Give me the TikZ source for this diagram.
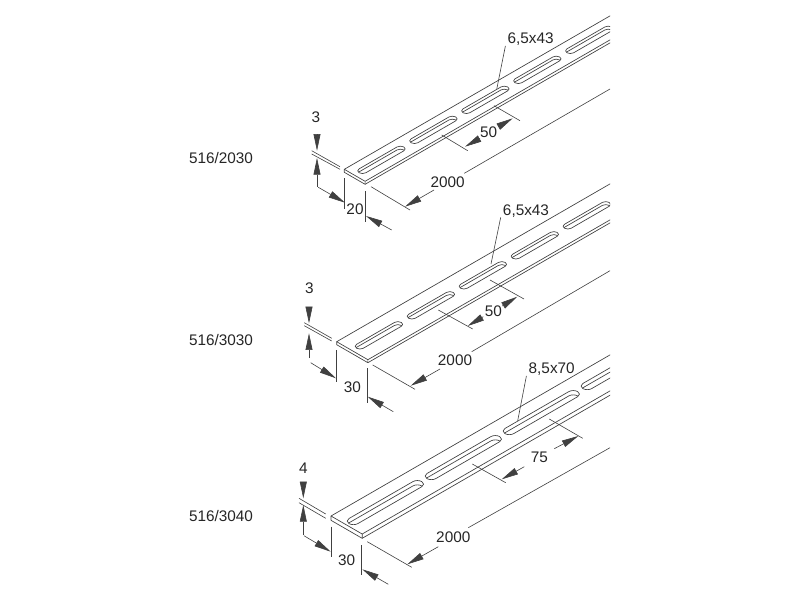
\documentclass[tikz,border=0pt]{standalone}
\usepackage{fontspec}
\setmainfont{Liberation Sans}
\usetikzlibrary{arrows.meta}

% outline of one slot: start, end, centre line, radius
\newcommand{\slotpath}[4]{(#1,#3-#4) -- (#2,#3-#4) arc [start angle=-90,end angle=90,radius=#4] -- (#1,#3+#4) arc [start angle=90,end angle=270,radius=#4] -- cycle}
% slot with its inner wall: as \slotpath, then wall depth
\newcommand{\slothole}[5]{
  \begin{scope}
    \clip \slotpath{#1}{#2}{#3}{#4};
    \draw [strip,shift={(-#5,#5)}] \slotpath{#1}{#2}{#3}{#4};
  \end{scope}
  \draw [strip] \slotpath{#1}{#2}{#3}{#4};
}
% body of the strip: width, depth
\newcommand{\stripbody}[2]{
  \draw [strip] (300,0) -- (0,0) -- (0,#1) -- (300,#1);
  \draw [strip] (0,0) -- ++(-#2,#2) -- ++(0,#1) -- ++(#2,-#2);
  \draw [strip] (-#2,#1+#2) -- (300,#1+#2);
}

\begin{document}
\begin{tikzpicture}[x=0.75pt,y=-0.75pt,>={Stealth[length=12.5pt,width=5.2pt,inset=0pt]}]
  \tikzstyle{strip}=[line width=0.5pt,draw=black!75,line join=round]
  \tikzstyle{dimline}=[line width=0.45pt,draw=black!75]
  \tikzstyle{dimarrow}=[dimline,->]
  \tikzstyle{dimtext}=[font=\fontsize{11.5pt}{13pt}\selectfont,text=black!85,inner sep=0pt]
  \tikzstyle{iso}=[x={(0.7794pt,0.45pt)},y={(0.7794pt,-0.45pt)}]

  \useasboundingbox (0,0) rectangle (800,600);
  \fill [white] (0,0) rectangle (800,600);

  \begin{scope}
    \clip (0,0) rectangle (610,600);
    % First strip
    \begin{scope}[shift={(344.3,169.3)},iso]
      \stripbody{20}{2.5}
      \foreach \k in {0,...,4} {
        \slothole{7.5+50*\k}{44+50*\k}{10}{3.25}{2.5}
      }
    \end{scope}
    % Second strip
    \begin{scope}[shift={(336.7,341.7)},iso]
      \stripbody{30}{2.5}
      \foreach \k in {0,...,4} {
        \slothole{7.4+50*\k}{43.9+50*\k}{15}{3.25}{2.5}
      }
    \end{scope}
    % Third strip
    \begin{scope}[shift={(331,516)},iso]
      \stripbody{30}{3.6}
      \foreach \k in {0,...,3} {
        \slothole{6.6+75*\k}{68.1+75*\k}{15}{4.25}{3.6}
      }
    \end{scope}
  \end{scope}

  \begin{scope}
    \node [dimtext] (typeA) at (221,158) {516/2030};
    \node [dimtext] (typeB) at (221,340) {516/3030};
    \node [dimtext] (typeC) at (221,516) {516/3040};

    \node [dimtext] (thickA) at (316,117.5) {3};
    \node [dimtext] (widthA) at (355,209) {20};
    \node [dimtext] (lenA) at (447.7,182.3) {2000};
    \node [dimtext] (pitchA) at (488.7,132.7) {50};
    \node [dimtext] (slotA) at (530.7,39.3) {6,5x43};

    \node [dimtext] (thickB) at (309.3,288.3) {3};
    \node [dimtext] (widthB) at (352.3,387.7) {30};
    \node [dimtext] (lenB) at (455,360) {2000};
    \node [dimtext] (pitchB) at (493.3,311) {50};
    \node [dimtext] (slotB) at (526,210.7) {6,5x43};

    \node [dimtext] (thickC) at (303.3,468.3) {4};
    \node [dimtext] (widthC) at (346.7,560) {30};
    \node [dimtext] (lenC) at (453.3,537.3) {2000};
    \node [dimtext] (pitchC) at (539.3,457.7) {75};
    \node [dimtext] (slotC) at (551.7,369.3) {8,5x70};
  \end{scope}

  % First dimensions
  \draw [dimarrow] (317,135) -- (317,150.7);
  \draw [dimarrow] (317,186.7) -- (317,158);
  \draw [dimline] (311.7,150.7) -- (340,166.7);
  \draw [dimline] (311.7,154) -- (340,169.3);
  \draw [dimarrow] (318.3,187.3) -- (345,202.7);
  \draw [dimline] (344.3,178.3) -- (344.3,209);
  \draw [dimline] (365.3,191) -- (365.3,221.7);
  \draw [dimarrow] (391.7,230) -- (366,216);
  \draw [dimline] (371,186.7) -- (410,210);
  \draw [dimline] (464.3,173.3) -- (610,89);
  \draw [dimarrow] (434,190) -- (405,206.7);
  \draw [dimline] (441.7,135) -- (467.7,150.7);
  \draw [dimline] (494,105.7) -- (520,120.7);
  \draw [dimarrow] (480,138.3) -- (465,146.7);
  \draw [dimarrow] (498.3,126.7) -- (512.7,118.3);
  \draw [dimline] (slotA.south west) ++(-2,0) -- (496.7,89.3);

  % Second dimensions
  \draw [dimarrow] (309,308) -- (309,323.3);
  \draw [dimarrow] (309,358) -- (309,333.3);
  \draw [dimline] (304.3,322.7) -- (331.7,338.3);
  \draw [dimline] (304.3,325.7) -- (331.7,341);
  \draw [dimarrow] (310.7,362.7) -- (336,378.3);
  \draw [dimline] (336.3,350) -- (336.3,381.7);
  \draw [dimline] (367.3,368.3) -- (367.3,402.7);
  \draw [dimarrow] (393.3,411.7) -- (367.7,396.7);
  \draw [dimline] (372.7,365) -- (415,389.3);
  \draw [dimline] (471.7,351.7) -- (610,270.7);
  \draw [dimarrow] (440,369) -- (410.7,385.7);
  \draw [dimline] (438.3,310) -- (472.7,329);
  \draw [dimline] (490,280) -- (524,299);
  \draw [dimarrow] (483.3,316.7) -- (467.7,326);
  \draw [dimarrow] (502.3,306) -- (517.3,296.7);
  \draw [dimline] (slotB.south west) ++(-2,0) -- (491,264);

  % Third dimensions
  \draw [dimarrow] (303.3,483.3) -- (303.3,498.3);
  \draw [dimarrow] (303.3,535) -- (303.3,505);
  \draw [dimline] (299,498.3) -- (325.7,514);
  \draw [dimline] (299,502.7) -- (325.7,518.3);
  \draw [dimarrow] (304,535.7) -- (330.7,551.7);
  \draw [dimline] (331,526.7) -- (331,556.7);
  \draw [dimline] (361.7,545) -- (361.7,575);
  \draw [dimarrow] (388.3,584.3) -- (362.3,569.3);
  \draw [dimline] (367.3,541.7) -- (411.7,567.3);
  \draw [dimline] (468.3,527.7) -- (610,447.7);
  \draw [dimarrow] (438.3,546.7) -- (407.3,564.3);
  \draw [dimline] (472.3,464) -- (505.7,482.7);
  \draw [dimline] (549.3,419) -- (582.7,438.3);
  \draw [dimarrow] (524.3,466.7) -- (501.7,479.3);
  \draw [dimarrow] (554.3,448.7) -- (578.3,436);
  \draw [dimline] (slotC.south west) ++(-2,0) -- (517.7,420.7);
\end{tikzpicture}
\end{document}
